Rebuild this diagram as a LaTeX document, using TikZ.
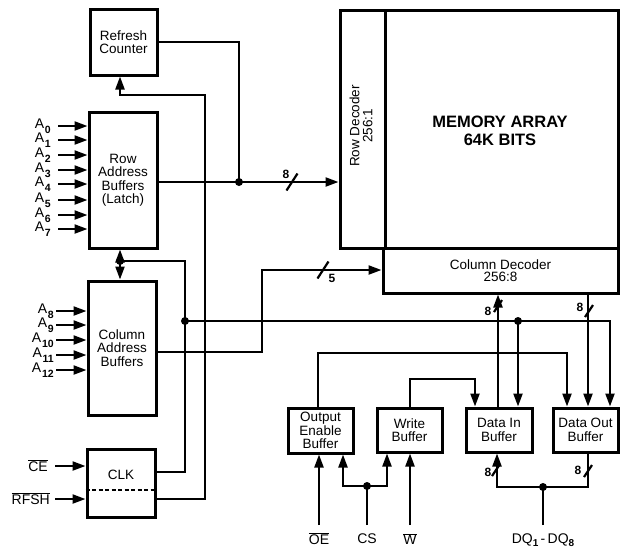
\documentclass[tikz,border=0pt]{standalone}
\usepackage{fontspec}
\setmainfont{Liberation Sans}
\usetikzlibrary{arrows.meta}
\newcommand\Asub[1]{A\kern0.8pt\raisebox{-5pt}{\fontsize{10.5}{10.5}\selectfont\bfseries #1}}
\newcommand\ovl[1]{$\overline{\hbox{#1}}$}
\begin{document}
\begin{tikzpicture}[x=1pt,y=-1pt,
  box/.style={draw, line width=3pt, inner sep=0pt, align=center,
    font=\fontsize{13.5}{13.5}\selectfont},
  wire/.style={line width=2.2pt},
  arr/.style={wire, -{Triangle[length=13pt,width=9pt]}},
  dot/.style={circle, fill, inner sep=0pt, minimum size=8pt},
  lab/.style={font=\fontsize{14}{14}\selectfont, inner sep=0pt},
  num/.style={font=\bfseries\fontsize{12}{12}\selectfont, inner sep=0pt}
]
\useasboundingbox (0,0) rectangle (620,550);

% ---------- boxes ----------
\node[box, minimum width=67pt, minimum height=66pt] (RC) at (123.5,42) {Refresh\\Counter};
\node[box, minimum width=68pt, minimum height=136pt] (RAB) at (123,180) {Row\\Address\\Buffers\\(Latch)};
\node[box, minimum width=68pt, minimum height=134pt] (CAB) at (122,348) {Column\\Address\\Buffers};
\node[box, minimum width=68pt, minimum height=68pt] (CLK) at (121,483) {};
\node[lab, font=\fontsize{13.5}{13.5}\selectfont] (clktxt) at (121,475) {CLK};
\draw[line width=1.8pt, dashed, dash pattern=on 4pt off 2.5pt] (CLK.west |- 0,490) -- (CLK.east |- 0,490);

\node[box, minimum width=45pt, minimum height=238pt] (RD) at (362.5,129) {};
\node[lab, rotate=90, align=center, font=\fontsize{13.5}{13}\selectfont] (rdtxt) at (361,126) {Row Decoder\\256:1};
\node[box, minimum width=233pt, minimum height=238pt] (MA) at (501.5,129) {};
\node[align=center, font=\bfseries\fontsize{16.5}{17.5}\selectfont, inner sep=0pt] (matxt) at (500,131) {MEMORY ARRAY\\64K BITS};
\node[box, minimum width=235pt, minimum height=45pt, font=\fontsize{13.5}{12.5}\selectfont] (CD) at (500.5,270.5) {Column Decoder\\256:8};

\node[box, minimum width=65pt, minimum height=45pt] (OEB) at (320.5,430.5) {Output\\Enable\\Buffer};
\node[box, minimum width=65pt, minimum height=44pt] (WB) at (409.5,430) {Write\\Buffer};
\node[box, minimum width=66pt, minimum height=44pt] (DIB) at (499,430) {Data In\\Buffer};
\node[box, minimum width=65pt, minimum height=44pt] (DOB) at (585.5,430) {Data Out\\Buffer};

% ---------- address inputs ----------
\foreach \i/\y in {0/126,1/140,2/155,3/170,4/184,5/200,6/215,7/229} {
  \node[lab, anchor=east] (a\i) at (51,\y) {\Asub{\i}};
  \draw[arr] ([xshift=7pt]a\i.east) -- (RAB.west |- a\i.east);
}
\foreach \i/\y in {8/311,9/325,10/340,11/355,12/370} {
  \node[lab, anchor=east] (a\i) at (54,\y) {\Asub{\i}};
  \draw[arr] ([xshift=2pt]a\i.east) -- (CAB.west |- a\i.east);
}

% ---------- clock inputs ----------
\node[lab, anchor=east] (ce) at (48,466) {\ovl{CE}};
\node[lab, anchor=east] (rfsh) at (50,499) {\ovl{RFSH}};
\draw[arr] ([xshift=7pt]ce.east) -- (CLK.west |- ce.east);
\draw[arr] ([xshift=5pt]rfsh.east) -- (CLK.west |- rfsh.east);

% ---------- junctions ----------
\coordinate (j1) at (239,182);
\coordinate (jrf) at (120,261);
\coordinate (jclk) at (185,321);
\coordinate (jdi) at (518,321);
\coordinate (jcs) at (367,486);
\coordinate (jdq) at (543,487);

% refresh counter output to row address line
\draw[wire] (RC.east) -| (j1);
\draw[arr] (RAB.east |- j1) -- (RD.west |- j1);
\node[dot] at (j1) {};
\draw[wire] (292,182) ++(-5.5,8.5) -- ++(11,-17);
\node[num] (n8a) at (286,174) {8};

% CLK refresh output -> refresh counter
\draw[arr] (CLK.east |- rfsh.east) -| (205,95) -| (RC.south -| 120,0);

% CLK CE output -> address buffers
\draw[wire] (CLK.east |- 0,472) -| (jrf -| 185,0) -- (jrf);
\draw[arr] (jrf) -- (RAB.south -| jrf);
\draw[arr] (jrf) -- (CAB.north -| jrf);
\node[dot] at (jrf) {};
\node[dot] at (jclk) {};
\draw[arr] (jclk) -| (DOB.north -| 610,0);
\draw[arr] (jdi) -- (DIB.north -| jdi);
\node[dot] at (jdi) {};

% column address output -> column decoder
\draw[arr] (CAB.east |- 0,352) -| (262,270) -- (CD.west |- 0,270);
\draw[wire] (323,270) ++(-5.5,8.5) -- ++(11,-17);
\node[num] (n5) at (332,278) {5};

% data paths to/from column decoder
\draw[arr] (DIB.north -| 498,0) -- (CD.south -| 498,0);
\draw[wire] (498,306) ++(-4,6) -- ++(8,-12);
\node[num] (n8b) at (488,311) {8};
\draw[arr] (CD.south -| 588,0) -- (DOB.north -| 588,0);
\draw[wire] (589,311) ++(-4,6) -- ++(8,-12);
\node[num] (n8c) at (580,307) {8};

% output enable and write control
\draw[arr] (OEB.north -| 318,0) |- (567,353) -- (DOB.north -| 567,0);
\draw[arr] (WB.north -| 410,0) |- (475,379) -- (DIB.north -| 475,0);

% bottom inputs
\node[lab] (oe) at (319,539) {\ovl{OE}};
\node[lab] (cs) at (367,539) {CS};
\node[lab] (w) at (410,539) {\ovl{W}};
\node[lab] (dq) at (543,540) {DQ\raisebox{-3pt}{\fontsize{10}{10}\selectfont\bfseries 1}\,-\,DQ\raisebox{-3pt}{\fontsize{10}{10}\selectfont\bfseries 8}};
\coordinate (oein) at (319,525);
\coordinate (csin) at (367,525);
\coordinate (win) at (410,525);
\coordinate (dqin) at (543,525);
\draw[arr] (oein) -- (OEB.south -| oein);
\draw[wire] (csin) -- (jcs);
\draw[arr] (jcs) -| (OEB.south -| 343,0);
\draw[arr] (jcs) -| (WB.south -| 387,0);
\node[dot] at (jcs) {};
\draw[arr] (win) -- (WB.south -| win);

% DQ bus
\draw[wire] (dqin) -- (jdq);
\draw[arr] (jdq) -| (DIB.south -| 497,0);
\draw[wire] (jdq) -| (DOB.south -| 588,0);
\node[dot] at (jdq) {};
\draw[wire] (496,470) ++(-4,6) -- ++(8,-12);
\node[num] (n8d) at (488,472) {8};
\draw[wire] (588,471) ++(-4,6) -- ++(8,-12);
\node[num] (n8e) at (578,470) {8};
\end{tikzpicture}
\end{document}
